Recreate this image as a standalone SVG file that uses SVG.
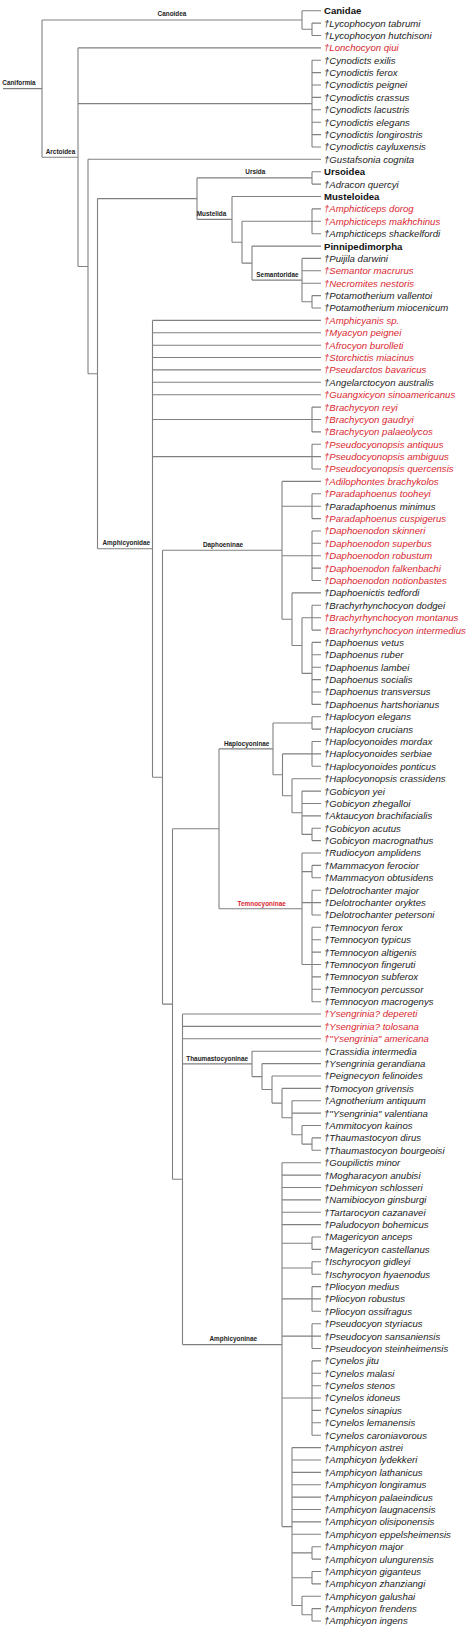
<svg xmlns="http://www.w3.org/2000/svg" width="474" height="1636" viewBox="0 0 474 1636">
<style>
.c path{fill:none;stroke:#808080;stroke-width:1.1}
text{font-family:"Liberation Sans",Arial,Helvetica,sans-serif}
.i{font-size:9.6px;font-style:italic;fill:#222}
.r{font-size:9.6px;font-style:italic;fill:#d9262e}
.b{font-size:9.6px;font-weight:bold;fill:#111}
.l{font-size:6.4px;font-weight:bold;fill:#222;text-anchor:middle}
.lr{font-size:6.4px;font-weight:bold;fill:#d9262e;text-anchor:middle}
</style>
<rect width="474" height="1636" fill="#fff"/>
<g id="connectors" class="c">
<path d="M3 88.6H42M42 20V157.2"/>
<path d="M42 20H302M302 10.7V29.3M302 10.7H321M302 29.3H312M312 23.1V35.5M312 23.1H321M312 35.5H321"/>
<path d="M42 157.2H78M78 47.9V266.5M78 47.9H321M78 103.6H312M312 60.2V147M312 60.2H321M312 72.6H321M312 85H321M312 97.4H321M312 109.8H321M312 122.2H321M312 134.6H321M312 147H321"/>
<path d="M78 266.5H88M88 159.3V373.7M88 159.3H321M88 373.7H97.5M97.5 198.6V548.8"/>
<path d="M97.5 198.6H197M197 177.9V219.4M197 177.9H312M312 171.7V184.1M312 171.7H321M312 184.1H321"/>
<path d="M197 219.4H232M232 196.5V242.2M232 196.5H321M232 242.2H242M242 221.3V263.1M242 221.3H312M312 208.9V233.7M312 208.9H321M312 221.3H321M312 233.7H321"/>
<path d="M242 263.1H252M252 246.1V280.1M252 246.1H321M252 280.1H302M302 258.4V301.8M302 258.4H321M302 270.8H321M302 283.2H321M302 301.8H312M312 295.6V308M312 295.6H321M312 308H321"/>
<path d="M97.5 548.8H152.5M152.5 320.4V777.2M152.5 320.4H321M152.5 332.8H321M152.5 345.2H321M152.5 357.5H321M152.5 369.9H321M152.5 382.3H321M152.5 394.7H321M152.5 419.5H312M312 407.1V431.9M312 407.1H321M312 419.5H321M312 431.9H321M152.5 456.6H312M312 444.2V469M312 444.2H321M312 456.6H321M312 469H321"/>
<path d="M152.5 777.2H162.5M162.5 550.3V1004.1M162.5 550.3H282M282 481.4V619.2M282 481.4H321M282 506.2H312M312 493.8V518.6M312 493.8H321M312 506.2H321M312 518.6H321M282 555.7H312M312 531V580.5M312 531H321M312 543.3H321M312 555.7H321M312 568.1H321M312 580.5H321M282 619.2H292M292 592.9V645.5M292 592.9H321M292 645.5H302M302 617.7V673.4M302 617.7H312M312 605.3V630.1M312 605.3H321M312 617.7H321M312 630.1H321M302 673.4H312M312 642.4V704.4M312 642.4H321M312 654.8H321M312 667.2H321M312 679.6H321M312 692H321M312 704.4H321"/>
<path d="M162.5 1004.1H172.5M172.5 828.8V1179.3M172.5 828.8H219M219 748.9V908.8M219 748.9H273M273 723V774.8M273 723H312M312 716.8V729.1M312 716.8H321M312 729.1H321M273 774.8H282.5M282.5 753.9V795.7M282.5 753.9H312M312 741.5V766.3M312 741.5H321M312 753.9H321M312 766.3H321M282.5 795.7H292M292 778.7V812.8M292 778.7H321M292 812.8H302M302 791.1V834.4M302 791.1H321M302 803.5H321M302 815.9H321M302 834.4H312M312 828.2V840.6M312 828.2H321M312 840.6H321"/>
<path d="M219 908.8H302M302 853V964.5M302 853H321M302 871.6H312M312 865.4V877.8M312 865.4H321M312 877.8H321M302 902.6H312M312 890.2V915M312 890.2H321M312 902.6H321M312 915H321M302 964.5H312M312 927.3V1001.7M312 927.3H321M312 939.7H321M312 952.1H321M312 964.5H321M312 976.9H321M312 989.3H321M312 1001.7H321"/>
<path d="M172.5 1179.3H182.5M182.5 1014V1344.6M182.5 1014H321M182.5 1026.4H321M182.5 1038.8H321M182.5 1063.9H252M252 1051.2V1076.6M252 1051.2H321M252 1076.6H262M262 1063.6V1089.5M262 1063.6H321M262 1089.5H272M272 1076V1103.1M272 1076H321M272 1103.1H282M282 1088.4V1117.8M282 1088.4H321M282 1117.8H292M292 1100.8V1134.8M292 1100.8H321M292 1113.1H321M292 1134.8H302M302 1125.5V1144.1M302 1125.5H321M302 1144.1H312M312 1137.9V1150.3M312 1137.9H321M312 1150.3H321"/>
<path d="M182.5 1344.6H282M282 1162.7V1526.6M282 1162.7H321M282 1175.1H321M282 1187.5H321M282 1199.9H321M282 1212.2H321M282 1224.6H321M282 1243.2H312M312 1237V1249.4M312 1237H321M312 1249.4H321M282 1268H312M312 1261.8V1274.2M312 1261.8H321M312 1274.2H321M282 1298.9H312M312 1286.6V1311.3M312 1286.6H321M312 1298.9H321M312 1311.3H321M282 1336.1H312M312 1323.7V1348.5M312 1323.7H321M312 1336.1H321M312 1348.5H321M282 1398H312M312 1360.9V1435.2M312 1360.9H321M312 1373.3H321M312 1385.7H321M312 1398H321M312 1410.4H321M312 1422.8H321M312 1435.2H321"/>
<path d="M282 1526.6H292M292 1447.6V1605.5M292 1447.6H321M292 1460H321M292 1472.4H321M292 1484.8H321M292 1497.1H321M292 1509.5H321M292 1521.9H321M292 1534.3H321M292 1552.9H312M312 1546.7V1559.1M312 1546.7H321M312 1559.1H321M292 1577.7H312M312 1571.5V1583.9M312 1571.5H321M312 1583.9H321M292 1605.5H302M302 1596.2V1614.8M302 1596.2H321M302 1614.8H312M312 1608.6V1621M312 1608.6H321M312 1621H321"/>
</g>
<g id="clade-labels">
<g id="c-caniformia"><text class="l" x="19" y="85.1">Caniformia</text></g>
<g id="c-canoidea"><text class="l" x="172" y="16.3">Canoidea</text></g>
<g id="c-arctoidea"><text class="l" x="60.5" y="153.5">Arctoidea</text></g>
<g id="c-ursida"><text class="l" x="255.3" y="174.3">Ursida</text></g>
<g id="c-mustelida"><text class="l" x="211.5" y="215.6">Mustelida</text></g>
<g id="c-semantoridae"><text class="l" x="277.5" y="277">Semantoridae</text></g>
<g id="c-amphicyonidae"><text class="l" x="126.3" y="545">Amphicyonidae</text></g>
<g id="c-daphoeninae"><text class="l" x="223" y="546.9">Daphoeninae</text></g>
<g id="c-haplocyoninae"><text class="l" x="246.7" y="745.6">Haplocyoninae</text></g>
<g id="c-temnocyoninae"><text class="lr" x="261.7" y="905.5">Temnocyoninae</text></g>
<g id="c-thaumastocyoninae"><text class="l" x="217.2" y="1060.6">Thaumastocyoninae</text></g>
<g id="c-amphicyoninae"><text class="l" x="233.3" y="1341.3">Amphicyoninae</text></g>
</g>
<g id="leaves">
<g id="t0"><text class="b" x="324" y="14.1">Canidae</text></g>
<g id="t1"><text class="i" x="324" y="26.5">†Lycophocyon tabrumi</text></g>
<g id="t2"><text class="i" x="324" y="38.9">†Lycophocyon hutchisoni</text></g>
<g id="t3"><text class="r" x="324" y="51.3">†Lonchocyon qiui</text></g>
<g id="t4"><text class="i" x="324" y="63.6">†Cynodicts exilis</text></g>
<g id="t5"><text class="i" x="324" y="76">†Cynodictis ferox</text></g>
<g id="t6"><text class="i" x="324" y="88.4">†Cynodictis peignei</text></g>
<g id="t7"><text class="i" x="324" y="100.8">†Cynodictis crassus</text></g>
<g id="t8"><text class="i" x="324" y="113.2">†Cynodicts lacustris</text></g>
<g id="t9"><text class="i" x="324" y="125.6">†Cynodictis elegans</text></g>
<g id="t10"><text class="i" x="324" y="138">†Cynodictis longirostris</text></g>
<g id="t11"><text class="i" x="324" y="150.4">†Cynodictis cayluxensis</text></g>
<g id="t12"><text class="i" x="324" y="162.7">†Gustafsonia cognita</text></g>
<g id="t13"><text class="b" x="324" y="175.1">Ursoidea</text></g>
<g id="t14"><text class="i" x="324" y="187.5">†Adracon quercyi</text></g>
<g id="t15"><text class="b" x="324" y="199.9">Musteloidea</text></g>
<g id="t16"><text class="r" x="324" y="212.3">†Amphicticeps dorog</text></g>
<g id="t17"><text class="r" x="324" y="224.7">†Amphicticeps makhchinus</text></g>
<g id="t18"><text class="i" x="324" y="237.1">†Amphicticeps shackelfordi</text></g>
<g id="t19"><text class="b" x="324" y="249.5">Pinnipedimorpha</text></g>
<g id="t20"><text class="i" x="324" y="261.8">†Puijila darwini</text></g>
<g id="t21"><text class="r" x="324" y="274.2">†Semantor macrurus</text></g>
<g id="t22"><text class="r" x="324" y="286.6">†Necromites nestoris</text></g>
<g id="t23"><text class="i" x="324" y="299">†Potamotherium vallentoi</text></g>
<g id="t24"><text class="i" x="324" y="311.4">†Potamotherium miocenicum</text></g>
<g id="t25"><text class="r" x="324" y="323.8">†Amphicyanis sp.</text></g>
<g id="t26"><text class="r" x="324" y="336.2">†Myacyon peignei</text></g>
<g id="t27"><text class="r" x="324" y="348.6">†Afrocyon burolleti</text></g>
<g id="t28"><text class="r" x="324" y="360.9">†Storchictis miacinus</text></g>
<g id="t29"><text class="r" x="324" y="373.3">†Pseudarctos bavaricus</text></g>
<g id="t30"><text class="i" x="324" y="385.7">†Angelarctocyon australis</text></g>
<g id="t31"><text class="r" x="324" y="398.1">†Guangxicyon sinoamericanus</text></g>
<g id="t32"><text class="r" x="324" y="410.5">†Brachycyon reyi</text></g>
<g id="t33"><text class="r" x="324" y="422.9">†Brachycyon gaudryi</text></g>
<g id="t34"><text class="r" x="324" y="435.3">†Brachycyon palaeolycos</text></g>
<g id="t35"><text class="r" x="324" y="447.6">†Pseudocyonopsis antiquus</text></g>
<g id="t36"><text class="r" x="324" y="460">†Pseudocyonopsis ambiguus</text></g>
<g id="t37"><text class="r" x="324" y="472.4">†Pseudocyonopsis quercensis</text></g>
<g id="t38"><text class="r" x="324" y="484.8">†Adilophontes brachykolos</text></g>
<g id="t39"><text class="r" x="324" y="497.2">†Paradaphoenus tooheyi</text></g>
<g id="t40"><text class="i" x="324" y="509.6">†Paradaphoenus minimus</text></g>
<g id="t41"><text class="r" x="324" y="522">†Paradaphoenus cuspigerus</text></g>
<g id="t42"><text class="r" x="324" y="534.4">†Daphoenodon skinneri</text></g>
<g id="t43"><text class="r" x="324" y="546.7">†Daphoenodon superbus</text></g>
<g id="t44"><text class="r" x="324" y="559.1">†Daphoenodon robustum</text></g>
<g id="t45"><text class="r" x="324" y="571.5">†Daphoenodon falkenbachi</text></g>
<g id="t46"><text class="r" x="324" y="583.9">†Daphoenodon notionbastes</text></g>
<g id="t47"><text class="i" x="324" y="596.3">†Daphoenictis tedfordi</text></g>
<g id="t48"><text class="i" x="324" y="608.7">†Brachyrhynchocyon dodgei</text></g>
<g id="t49"><text class="r" x="324" y="621.1">†Brachyrhynchocyon montanus</text></g>
<g id="t50"><text class="r" x="324" y="633.5">†Brachyrhynchocyon intermedius</text></g>
<g id="t51"><text class="i" x="324" y="645.8">†Daphoenus vetus</text></g>
<g id="t52"><text class="i" x="324" y="658.2">†Daphoenus ruber</text></g>
<g id="t53"><text class="i" x="324" y="670.6">†Daphoenus lambei</text></g>
<g id="t54"><text class="i" x="324" y="683">†Daphoenus socialis</text></g>
<g id="t55"><text class="i" x="324" y="695.4">†Daphoenus transversus</text></g>
<g id="t56"><text class="i" x="324" y="707.8">†Daphoenus hartshorianus</text></g>
<g id="t57"><text class="i" x="324" y="720.2">†Haplocyon elegans</text></g>
<g id="t58"><text class="i" x="324" y="732.5">†Haplocyon crucians</text></g>
<g id="t59"><text class="i" x="324" y="744.9">†Haplocyonoides mordax</text></g>
<g id="t60"><text class="i" x="324" y="757.3">†Haplocyonoides serbiae</text></g>
<g id="t61"><text class="i" x="324" y="769.7">†Haplocyonoides ponticus</text></g>
<g id="t62"><text class="i" x="324" y="782.1">†Haplocyonopsis crassidens</text></g>
<g id="t63"><text class="i" x="324" y="794.5">†Gobicyon yei</text></g>
<g id="t64"><text class="i" x="324" y="806.9">†Gobicyon zhegalloi</text></g>
<g id="t65"><text class="i" x="324" y="819.3">†Aktaucyon brachifacialis</text></g>
<g id="t66"><text class="i" x="324" y="831.6">†Gobicyon acutus</text></g>
<g id="t67"><text class="i" x="324" y="844">†Gobicyon macrognathus</text></g>
<g id="t68"><text class="i" x="324" y="856.4">†Rudiocyon amplidens</text></g>
<g id="t69"><text class="i" x="324" y="868.8">†Mammacyon ferocior</text></g>
<g id="t70"><text class="i" x="324" y="881.2">†Mammacyon obtusidens</text></g>
<g id="t71"><text class="i" x="324" y="893.6">†Delotrochanter major</text></g>
<g id="t72"><text class="i" x="324" y="906">†Delotrochanter oryktes</text></g>
<g id="t73"><text class="i" x="324" y="918.4">†Delotrochanter petersoni</text></g>
<g id="t74"><text class="i" x="324" y="930.7">†Temnocyon ferox</text></g>
<g id="t75"><text class="i" x="324" y="943.1">†Temnocyon typicus</text></g>
<g id="t76"><text class="i" x="324" y="955.5">†Temnocyon altigenis</text></g>
<g id="t77"><text class="i" x="324" y="967.9">†Temnocyon fingeruti</text></g>
<g id="t78"><text class="i" x="324" y="980.3">†Temnocyon subferox</text></g>
<g id="t79"><text class="i" x="324" y="992.7">†Temnocyon percussor</text></g>
<g id="t80"><text class="i" x="324" y="1005.1">†Temnocyon macrogenys</text></g>
<g id="t81"><text class="r" x="324" y="1017.4">†Ysengrinia? depereti</text></g>
<g id="t82"><text class="r" x="324" y="1029.8">†Ysengrinia? tolosana</text></g>
<g id="t83"><text class="r" x="324" y="1042.2">†"Ysengrinia" americana</text></g>
<g id="t84"><text class="i" x="324" y="1054.6">†Crassidia intermedia</text></g>
<g id="t85"><text class="i" x="324" y="1067">†Ysengrinia gerandiana</text></g>
<g id="t86"><text class="i" x="324" y="1079.4">†Peignecyon felinoides</text></g>
<g id="t87"><text class="i" x="324" y="1091.8">†Tomocyon grivensis</text></g>
<g id="t88"><text class="i" x="324" y="1104.2">†Agnotherium antiquum</text></g>
<g id="t89"><text class="i" x="324" y="1116.5">†"Ysengrinia" valentiana</text></g>
<g id="t90"><text class="i" x="324" y="1128.9">†Ammitocyon kainos</text></g>
<g id="t91"><text class="i" x="324" y="1141.3">†Thaumastocyon dirus</text></g>
<g id="t92"><text class="i" x="324" y="1153.7">†Thaumastocyon bourgeoisi</text></g>
<g id="t93"><text class="i" x="324" y="1166.1">†Goupilictis minor</text></g>
<g id="t94"><text class="i" x="324" y="1178.5">†Mogharacyon anubisi</text></g>
<g id="t95"><text class="i" x="324" y="1190.9">†Dehmicyon schlosseri</text></g>
<g id="t96"><text class="i" x="324" y="1203.3">†Namibiocyon ginsburgi</text></g>
<g id="t97"><text class="i" x="324" y="1215.6">†Tartarocyon cazanavei</text></g>
<g id="t98"><text class="i" x="324" y="1228">†Paludocyon bohemicus</text></g>
<g id="t99"><text class="i" x="324" y="1240.4">†Magericyon anceps</text></g>
<g id="t100"><text class="i" x="324" y="1252.8">†Magericyon castellanus</text></g>
<g id="t101"><text class="i" x="324" y="1265.2">†Ischyrocyon gidleyi</text></g>
<g id="t102"><text class="i" x="324" y="1277.6">†Ischyrocyon hyaenodus</text></g>
<g id="t103"><text class="i" x="324" y="1290">†Pliocyon medius</text></g>
<g id="t104"><text class="i" x="324" y="1302.3">†Pliocyon robustus</text></g>
<g id="t105"><text class="i" x="324" y="1314.7">†Pliocyon ossifragus</text></g>
<g id="t106"><text class="i" x="324" y="1327.1">†Pseudocyon styriacus</text></g>
<g id="t107"><text class="i" x="324" y="1339.5">†Pseudocyon sansaniensis</text></g>
<g id="t108"><text class="i" x="324" y="1351.9">†Pseudocyon steinheimensis</text></g>
<g id="t109"><text class="i" x="324" y="1364.3">†Cynelos jitu</text></g>
<g id="t110"><text class="i" x="324" y="1376.7">†Cynelos malasi</text></g>
<g id="t111"><text class="i" x="324" y="1389.1">†Cynelos stenos</text></g>
<g id="t112"><text class="i" x="324" y="1401.4">†Cynelos idoneus</text></g>
<g id="t113"><text class="i" x="324" y="1413.8">†Cynelos sinapius</text></g>
<g id="t114"><text class="i" x="324" y="1426.2">†Cynelos lemanensis</text></g>
<g id="t115"><text class="i" x="324" y="1438.6">†Cynelos caroniavorous</text></g>
<g id="t116"><text class="i" x="324" y="1451">†Amphicyon astrei</text></g>
<g id="t117"><text class="i" x="324" y="1463.4">†Amphicyon lydekkeri</text></g>
<g id="t118"><text class="i" x="324" y="1475.8">†Amphicyon lathanicus</text></g>
<g id="t119"><text class="i" x="324" y="1488.2">†Amphicyon longiramus</text></g>
<g id="t120"><text class="i" x="324" y="1500.5">†Amphicyon palaeindicus</text></g>
<g id="t121"><text class="i" x="324" y="1512.9">†Amphicyon laugnacensis</text></g>
<g id="t122"><text class="i" x="324" y="1525.3">†Amphicyon olisiponensis</text></g>
<g id="t123"><text class="i" x="324" y="1537.7">†Amphicyon eppelsheimensis</text></g>
<g id="t124"><text class="i" x="324" y="1550.1">†Amphicyon major</text></g>
<g id="t125"><text class="i" x="324" y="1562.5">†Amphicyon ulungurensis</text></g>
<g id="t126"><text class="i" x="324" y="1574.9">†Amphicyon giganteus</text></g>
<g id="t127"><text class="i" x="324" y="1587.2">†Amphicyon zhanziangi</text></g>
<g id="t128"><text class="i" x="324" y="1599.6">†Amphicyon galushai</text></g>
<g id="t129"><text class="i" x="324" y="1612">†Amphicyon frendens</text></g>
<g id="t130"><text class="i" x="324" y="1624.4">†Amphicyon ingens</text></g>
</g>
</svg>
